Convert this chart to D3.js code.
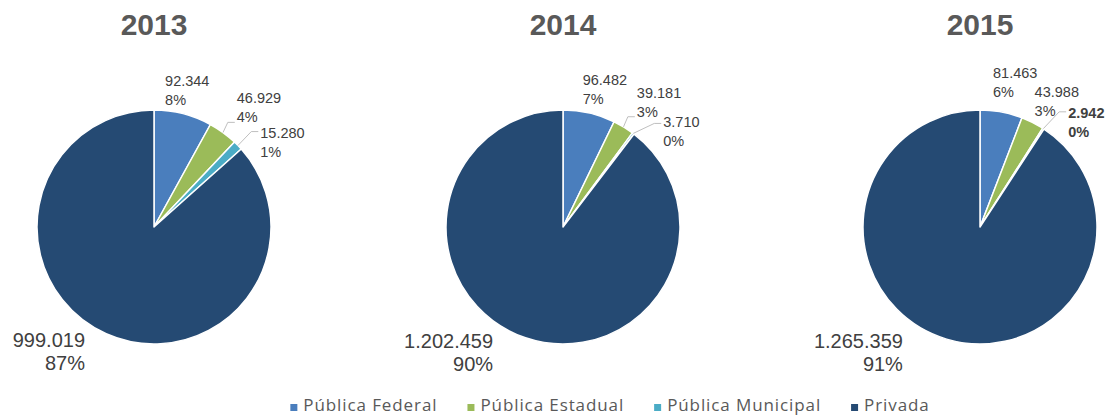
<!DOCTYPE html>
<html>
<head>
<meta charset="utf-8">
<script src="https://cdn.jsdelivr.net/npm/d3@7"></script>
<style>
  body { margin: 0; background: #fff; }
  svg { display: block; }
  .title { font-family: "Liberation Sans", Arial, sans-serif; font-weight: bold; font-size: 30px; fill: #595959; }
  .lbl { font-family: "Liberation Sans", Arial, sans-serif; fill: #404040; }
  .legend text { font-family: "Open Sans", sans-serif; font-size: 17px; letter-spacing: 0.9px; fill: #595959; }
</style>
</head>
<body>
<script>
// data
var categories = ["Pública Federal", "Pública Estadual", "Pública Municipal", "Privada"];
var years = ["2013", "2014", "2015"];
var values2013 = [92344, 46929, 15280, 999019];
var values2014 = [96482, 39181, 3710, 1202459];
var values2015 = [81463, 43988, 2942, 1265359];
var seriesValues = [values2013, values2014, values2015];

var colors = ["#4a7ebd", "#9bbb59", "#4bacc6", "#254a73"];

// layout
var width = 1110, height = 419;
var centers = [154, 563, 980], cy = 227, radius = 117;

// label nudges from the outer centroid, [dx, dy] per year per slice
var nudges = [
  [[-23, -8], [2, -13], [8, 6], [-13, -5]],
  [[-11, -8], [3, -12], [18, 10], [-26, -9]],
  [[-12, -14], [-7, -8], [14, 6], [-38, -10]]
];
// leader line end y relative to label baseline (null = no line)
var leaders = [
  [null, 19, -6, null],
  [null, 19, -4, null],
  [null, null, -6, null]
];
var boldLabel = [
  [false, false, false, false],
  [false, false, false, false],
  [false, false, true, false]
];

var fmt = d3.formatLocale({decimal: ",", thousands: ".", grouping: [3], currency: ["R$", ""]}).format(",d");

var svg = d3.select("body").append("svg")
  .attr("width", width)
  .attr("height", height);

var pie = d3.pie().sort(null).value(function(d){ return d; });
var arc = d3.arc().innerRadius(0).outerRadius(radius);
var labelArc = d3.arc().innerRadius(radius + 20).outerRadius(radius + 20);

years.forEach(function(year, yi){
  var vals = seriesValues[yi];
  var total = d3.sum(vals);
  var g = svg.append("g").attr("transform", "translate(" + centers[yi] + "," + cy + ")");

  svg.append("text")
    .attr("class", "title")
    .attr("x", centers[yi])
    .attr("y", 35)
    .attr("text-anchor", "middle")
    .text(year);

  var arcs = pie(vals);

  g.selectAll("path.slice")
    .data(arcs)
    .enter()
    .append("path")
    .attr("class", "slice")
    .attr("d", arc)
    .attr("fill", function(d, i){ return colors[i]; })
    .attr("stroke", "#fff")
    .attr("stroke-width", 1.5)
    .attr("stroke-linejoin", "round");

  arcs.forEach(function(d, i){
    var c = labelArc.centroid(d);
    var x = c[0] + nudges[yi][i][0];
    var y = c[1] + nudges[yi][i][1];
    var big = i == 3;
    var fs = big ? 20 : 14.5;
    var lh = big ? 23 : 19;
    var anchor = big ? "end" : "start";

    var t = g.append("text")
      .attr("class", "lbl")
      .attr("text-anchor", anchor)
      .style("font-size", fs + "px")
      .style("font-weight", boldLabel[yi][i] ? "bold" : "normal");
    t.append("tspan").attr("x", x).attr("y", y).text(fmt(d.data));
    t.append("tspan").attr("x", x).attr("y", y + lh).text(Math.round(d.data / total * 100) + "%");

    if (leaders[yi][i] != null) {
      var a = (d.startAngle + d.endAngle) / 2;
      var sx = Math.sin(a) * radius, sy = -Math.cos(a) * radius;
      var ly = y + leaders[yi][i];
      g.append("path")
        .attr("d", d3.line()([[sx, sy], [x - 9, ly], [x - 2, ly]]))
        .attr("fill", "none")
        .attr("stroke", "#bfbfbf")
        .attr("stroke-width", 1);
    }
  });
});

// legend
var legend = svg.append("g").attr("class", "legend");
var lx = 0;
categories.forEach(function(cat, i){
  var item = legend.append("g").attr("transform", "translate(" + lx + ",0)");
  item.append("rect")
    .attr("x", 0).attr("y", -7)
    .attr("width", 7).attr("height", 7)
    .attr("fill", colors[i]);
  var tx = item.append("text")
    .attr("x", 13).attr("y", 0)
    .text(cat);
  lx += 13 + tx.node().getComputedTextLength() + 30;
});
var legendW = lx - 30;
legend.attr("transform", "translate(" + (610 - legendW / 2) + ",411)");
</script>
</body>
</html>
